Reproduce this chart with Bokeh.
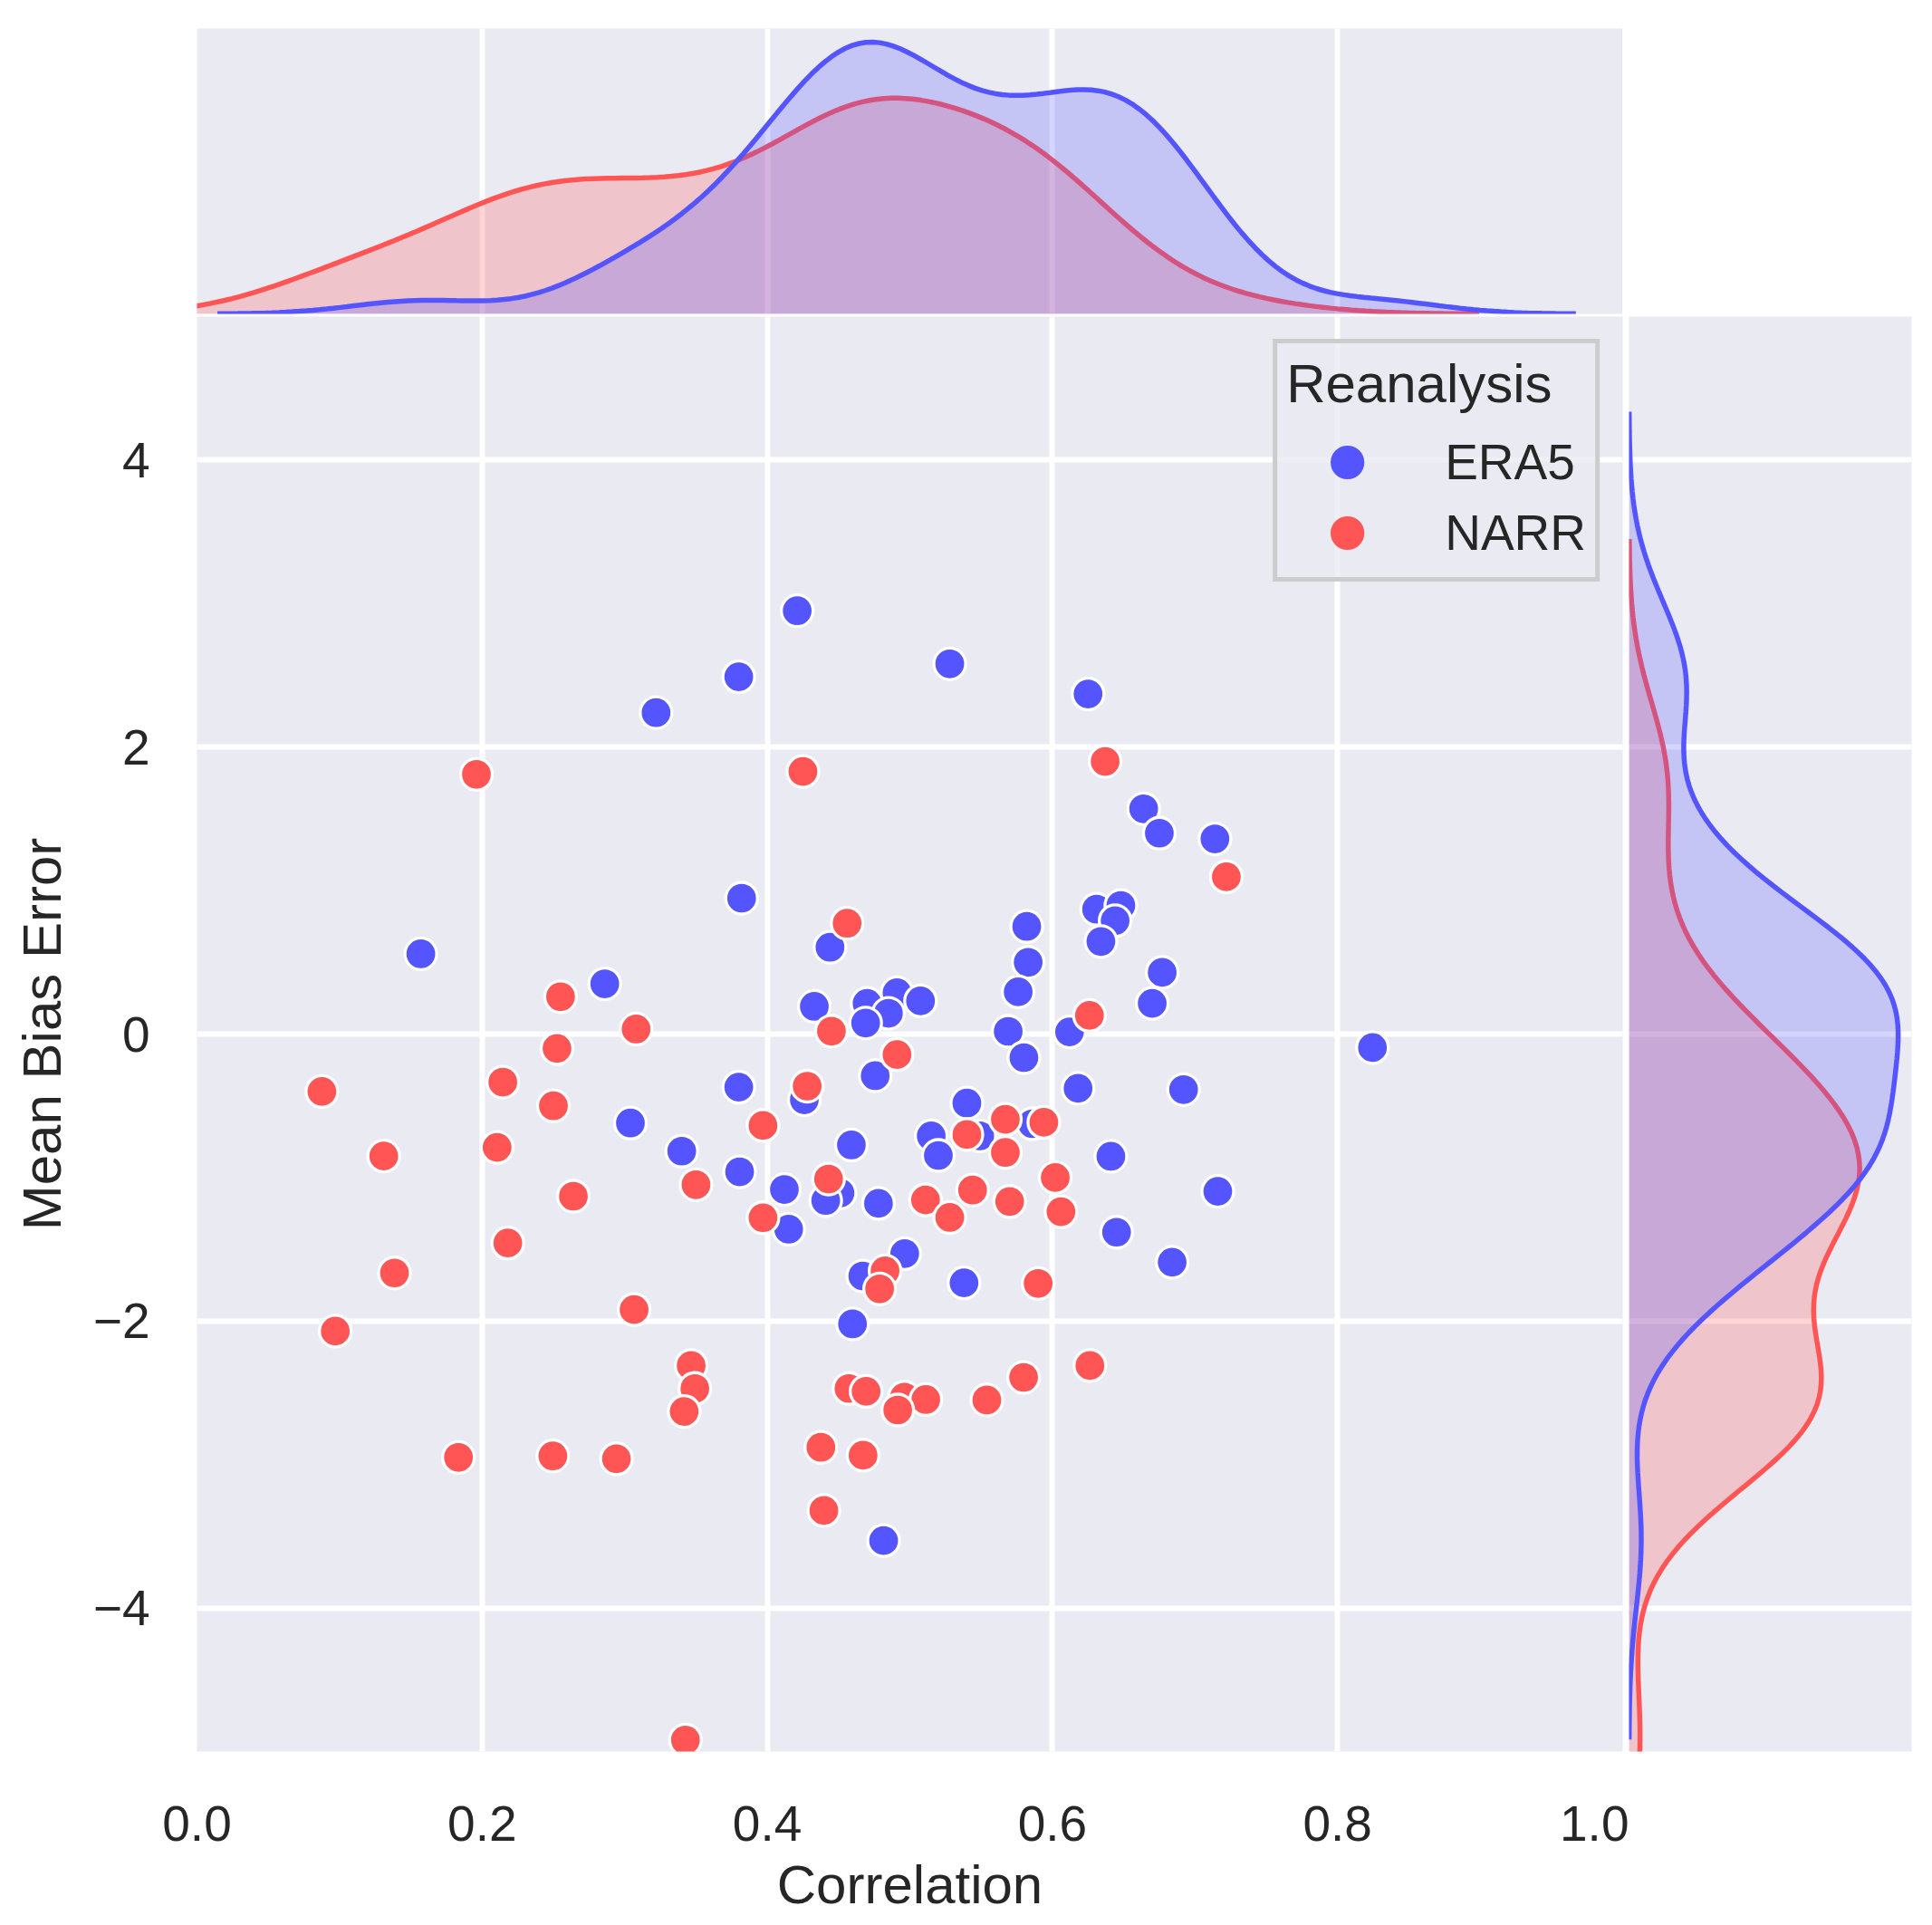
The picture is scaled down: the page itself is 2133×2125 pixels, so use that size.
import numpy as np
from bokeh.plotting import figure
from bokeh.layouts import column, row
from bokeh.models import Range1d, FixedTicker, Legend, LegendItem, Grid, Spacer
from bokeh.embed import file_html
from bokeh.resources import INLINE

# ---------------- data ----------------
era5_corr = [0.421, 0.380, 0.322, 0.528, 0.625, 0.664, 0.675, 0.714, 0.382, 0.157,
             0.631, 0.648, 0.644, 0.634, 0.582, 0.583, 0.576, 0.677, 0.670, 0.444,
             0.286, 0.433, 0.470, 0.491, 0.485, 0.469, 0.5075, 0.569, 0.612, 0.580,
             0.8245, 0.618, 0.692, 0.540, 0.586, 0.549, 0.515, 0.520, 0.641, 0.716,
             0.645, 0.684, 0.538, 0.4757, 0.426, 0.380, 0.304, 0.340, 0.3806, 0.459,
             0.412, 0.451, 0.441, 0.478, 0.415, 0.4964, 0.467, 0.4598, 0.4816]
era5_mbe = [2.95, 2.49, 2.24, 2.58, 2.37, 1.57, 1.40, 1.36, 0.947, 0.559,
            0.87, 0.896, 0.79, 0.645, 0.75, 0.50, 0.294, 0.43, 0.214, 0.605,
            0.35, 0.193, 0.214, 0.288, 0.145, 0.077, 0.231, 0.019, 0.015, -0.164,
            -0.094, -0.378, -0.387, -0.481, -0.625, -0.71, -0.71, -0.846, -0.852, -1.096,
            -1.381, -1.59, -1.734, -0.29, -0.458, -0.37, -0.62, -0.816, -0.96, -0.773,
            -1.083, -1.108, -1.16, -1.18, -1.36, -1.53, -1.686, -2.02, -3.53]

narr_corr = [0.196, 0.425, 0.637, 0.722, 0.456, 0.255, 0.308, 0.445, 0.626, 0.491,
             0.2525, 0.2145, 0.0876, 0.250, 0.428, 0.397, 0.131, 0.2105, 0.350, 0.264,
             0.218, 0.1385, 0.097, 0.3066, 0.443, 0.397, 0.567, 0.594, 0.540, 0.567,
             0.602, 0.511, 0.544, 0.570, 0.528, 0.606, 0.590, 0.4826, 0.4788, 0.3466,
             0.3492, 0.3417, 0.4573, 0.4693, 0.4962, 0.5112, 0.4915, 0.554, 0.5798, 0.6263,
             0.1834, 0.2496, 0.2942, 0.4376, 0.4672, 0.4397, 0.3426]
narr_mbe = [1.81, 1.83, 1.90, 1.096, 0.772, 0.26, 0.035, 0.02, 0.13, -0.143,
            -0.10, -0.335, -0.40, -0.50, -0.363, -0.637, -0.85, -0.79, -1.05, -1.13,
            -1.456, -1.665, -2.07, -1.92, -1.01, -1.28, -0.594, -0.615, -0.70, -0.825,
            -1.0, -1.156, -1.087, -1.167, -1.278, -1.238, -1.738, -1.65, -1.776, -2.31,
            -2.47, -2.63, -2.47, -2.49, -2.53, -2.547, -2.62, -2.55, -2.393, -2.31,
            -2.95, -2.94, -2.96, -2.88, -2.935, -3.32, -4.92]

groups = ["ERA5", "NARR"]
x_ticks = [0.0, 0.2, 0.4, 0.6, 0.8, 1.0]
x_tick_labels = ["0.0", "0.2", "0.4", "0.6", "0.8", "1.0"]
y_ticks = [-4, -2, 0, 2, 4]
y_tick_labels = ["\u22124", "\u22122", "0", "2", "4"]

# ---------------- style ----------------
BLUE = "#5555FF"
RED = "#FF5555"
BG = "#EAEAF2"
TXT = "#262626"
FONT = "Liberation Sans"
GRID_W = 6
BW_ADJUST = 0.85


def kde(values, n_total, gridsize=200, cut=3):
    v = np.asarray(values, dtype=float)
    n = len(v)
    bw = np.std(v, ddof=1) * n ** (-0.2) * BW_ADJUST
    grid = np.linspace(v.min() - cut * bw, v.max() + cut * bw, gridsize)
    dens = np.exp(-0.5 * ((grid[:, None] - v[None, :]) / bw) ** 2).sum(axis=1)
    dens = dens / (n * bw * np.sqrt(2 * np.pi))
    return grid, dens * n / n_total


N = len(era5_corr) + len(narr_corr)
gx_e, dx_e = kde(era5_corr, N)
gx_n, dx_n = kde(narr_corr, N)
gy_e, dy_e = kde(era5_mbe, N)
gy_n, dy_n = kde(narr_mbe, N)

# ---------------- main scatter ----------------
main = figure(width=1798, height=1768, x_range=Range1d(0, 1), y_range=Range1d(-5, 5),
              output_backend="svg", toolbar_location=None,
              min_border_left=217, min_border_right=7, min_border_top=0, min_border_bottom=184,
              background_fill_color=BG, border_fill_color="white", outline_line_color=None)

main.xaxis.ticker = FixedTicker(ticks=x_ticks)
main.yaxis.ticker = FixedTicker(ticks=y_ticks)
main.xaxis.major_label_overrides = {t: l for t, l in zip(x_ticks, x_tick_labels)}
main.yaxis.major_label_overrides = {t: l for t, l in zip(y_ticks, y_tick_labels)}
for ax in (main.xaxis, main.yaxis):
    ax.axis_line_color = None
    ax.major_tick_line_color = None
    ax.minor_tick_line_color = None
    ax.major_tick_out = 0
    ax.major_tick_in = 0
    ax.minor_tick_out = 0
    ax.minor_tick_in = 0
    ax.major_label_text_font = FONT
    ax.major_label_text_font_size = "55px"
    ax.major_label_text_color = TXT
    ax.axis_label_text_font = FONT
    ax.axis_label_text_font_size = "60px"
    ax.axis_label_text_font_style = "normal"
    ax.axis_label_text_color = TXT
main.xaxis.axis_label = "Correlation"
main.yaxis.axis_label = "Mean Bias Error"
main.xaxis.major_label_standoff = 60
main.xaxis.axis_label_standoff = 12
main.yaxis.major_label_standoff = 52
main.yaxis.axis_label_standoff = 20
main.grid.grid_line_color = "white"
main.grid.grid_line_width = GRID_W
main.grid.grid_line_alpha = 1

main.scatter(era5_corr, era5_mbe, size=35, fill_color=BLUE, line_color="white", line_width=3.3)
main.scatter(narr_corr, narr_mbe, size=35, fill_color=RED, line_color="white", line_width=3.3)

# hidden copies (edge in the fill colour) used only for the legend swatches
leg_e = main.scatter(era5_corr, era5_mbe, fill_color=BLUE, line_color=BLUE, line_width=6, visible=False)
leg_n = main.scatter(narr_corr, narr_mbe, fill_color=RED, line_color=RED, line_width=6, visible=False)
legend = Legend(items=[LegendItem(label=groups[0], renderers=[leg_e]),
                       LegendItem(label=groups[1], renderers=[leg_n])],
                title="Reanalysis", location="top_right", margin=25, padding=10,
                glyph_width=134, glyph_height=78, label_standoff=41, spacing=0,
                title_standoff=13,
                title_text_font=FONT, title_text_font_size="60px", title_text_font_style="normal",
                title_text_color=TXT,
                label_text_font=FONT, label_text_font_size="55px", label_text_color=TXT,
                border_line_color="#cccccc", border_line_width=5, border_line_alpha=1,
                background_fill_color=BG, background_fill_alpha=0.8)
main.add_layout(legend)

# ---------------- top marginal ----------------
top_max = max(dx_e.max(), dx_n.max())
top = figure(width=1791, height=349, x_range=main.x_range, y_range=Range1d(0, 1.05 * top_max),
             output_backend="svg", toolbar_location=None,
             x_axis_location=None, y_axis_location=None,
             min_border_left=217, min_border_right=0, min_border_top=31, min_border_bottom=3,
             background_fill_color=BG, border_fill_color="white", outline_line_color=None)
top.grid.visible = False
top.add_layout(Grid(dimension=0, ticker=FixedTicker(ticks=x_ticks),
                    grid_line_color="white", grid_line_width=GRID_W))
top.varea(x=gx_n, y1=0, y2=dx_n, fill_color=RED, fill_alpha=0.25)
top.line(gx_n, dx_n, line_color=RED, line_width=5.5)
top.varea(x=gx_e, y1=0, y2=dx_e, fill_color=BLUE, fill_alpha=0.25)
top.line(gx_e, dx_e, line_color=BLUE, line_width=5.5)

# ---------------- right marginal ----------------
right_max = max(dy_e.max(), dy_n.max())
right = figure(width=322, height=1768, x_range=Range1d(0, 1.05 * right_max), y_range=main.y_range,
               output_backend="svg", toolbar_location=None,
               x_axis_location=None, y_axis_location=None,
               min_border_left=0, min_border_right=10, min_border_top=0, min_border_bottom=184,
               background_fill_color=BG, border_fill_color="white", outline_line_color=None)
right.grid.visible = False
right.add_layout(Grid(dimension=1, ticker=FixedTicker(ticks=y_ticks),
                      grid_line_color="white", grid_line_width=GRID_W))
right.harea(y=gy_n, x1=0, x2=dy_n, fill_color=RED, fill_alpha=0.25)
right.line(dy_n, gy_n, line_color=RED, line_width=5.5)
right.harea(y=gy_e, x1=0, x2=dy_e, fill_color=BLUE, fill_alpha=0.25)
right.line(dy_e, gy_e, line_color=BLUE, line_width=5.5)

layout = column(row(top, Spacer(width=322, height=349)), row(main, right))

open("out.html", "w").write(file_html(layout, INLINE))
